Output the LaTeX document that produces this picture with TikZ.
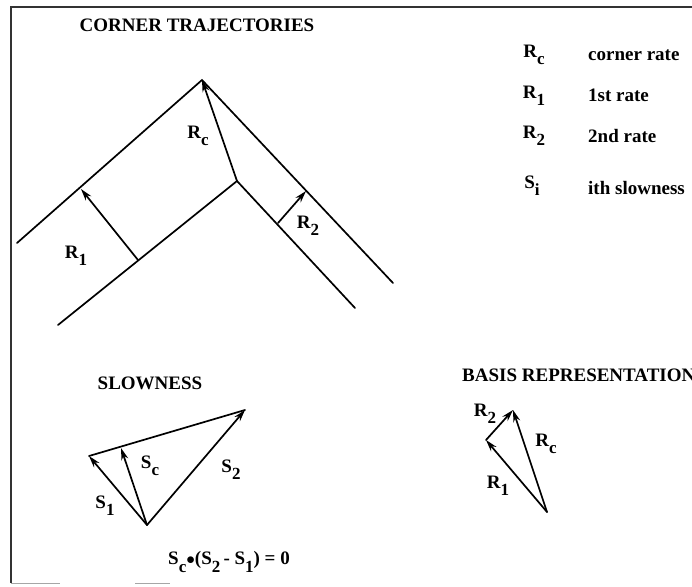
\documentclass[tikz,border=0pt]{standalone}
\usepackage{fontspec}
\setmainfont{Liberation Serif}
\usetikzlibrary{arrows.meta}
\newcommand{\sbx}[1]{\raisebox{-0.38em}{\fontsize{17}{17}\selectfont #1}}
\begin{document}
\begin{tikzpicture}[x=1pt,y=-1pt,
  ln/.style={line width=1.7pt, line cap=round},
  arr/.style={ln, -{Stealth[length=12pt,width=7pt]}},
  lbl/.style={font=\fontsize{19}{19}\selectfont\bfseries, inner sep=0pt},
  ttl/.style={font=\fontsize{19}{19}\selectfont\bfseries, inner sep=0pt}]
\useasboundingbox (0,0) rectangle (692,586);
\fill[white] (0,0) rectangle (692,586);
% frame
\draw[line width=1.3pt, black!80] (692,7) -- (11,7) -- (11,583);
\draw[line width=0.8pt, black!35] (11,583) -- (60,583) (135,583) -- (170,583);

% corner trajectories
\node[ttl] (t1) at (197,25) {CORNER TRAJECTORIES};
\coordinate (oL) at (17,243);
\coordinate (apex) at (202,80);
\coordinate (oR) at (393,283);
\coordinate (iL) at (58,325);
\coordinate (ic) at (237,181);
\coordinate (iR) at (355,308);
\draw[ln] (oL) -- (apex) -- (oR);
\draw[ln] (iL) -- (ic) -- (iR);
\coordinate (r1s) at (138,260);
\coordinate (r1e) at (81,189);
\coordinate (r2s) at (278,223);
\coordinate (r2e) at (306,191);
\draw[arr] (r1s) -- (r1e);
\draw[arr] (ic) -- (apex);
\draw[arr] (r2s) -- (r2e);
\node[lbl] (lrc) at (198,136) {R\sbx{c}};
\node[lbl] (lr1) at (76,256) {R\sbx{1}};
\node[lbl] (lr2) at (308,226) {R\sbx{2}};

% legend
\node[lbl] (k1) at (534,55) {R\sbx{c}};
\node[lbl, anchor=west] (d1) at (588,55) {corner rate};
\node[lbl] (k2) at (534,96) {R\sbx{1}};
\node[lbl, anchor=west] (d2) at (588,95) {1st rate};
\node[lbl] (k3) at (534,136) {R\sbx{2}};
\node[lbl, anchor=west] (d3) at (588,136) {2nd rate};
\node[lbl] (k4) at (532,186) {S\sbx{i}};
\node[lbl, anchor=west] (d4) at (588,188) {ith slowness};

% slowness
\node[ttl] (t2) at (150,383) {SLOWNESS};
\coordinate (so) at (147,525);
\coordinate (s1) at (89,456);
\coordinate (s2) at (245,410);
\coordinate (sc) at (121,448);
\draw[ln] (s1) -- (s2);
\draw[arr] (so) -- (s1);
\draw[arr] (so) -- (sc);
\draw[arr] (so) -- (s2);
\node[lbl] (ls1) at (105,506) {S\sbx{1}};
\node[lbl] (lsc) at (150,466) {S\sbx{c}};
\node[lbl] (ls2) at (231,470) {S\sbx{2}};
\node[lbl] (eq) at (229,562) {S\sbx{c}$\bullet$(S\sbx{2}\,- S\sbx{1}) = 0};

% basis representation
\node[ttl, anchor=west] (t3) at (462,375) {BASIS REPRESENTATION};
\coordinate (bo) at (547,512);
\coordinate (b1) at (486,440);
\coordinate (b2) at (513,410);
\draw[arr] (bo) -- (b1);
\draw[arr] (b1) -- (b2);
\draw[arr] (bo) -- (b2);
\node[lbl] (lb2) at (485,414) {R\sbx{2}};
\node[lbl] (lbc) at (546,444) {R\sbx{c}};
\node[lbl] (lb1) at (498,486) {R\sbx{1}};
\end{tikzpicture}
\end{document}
